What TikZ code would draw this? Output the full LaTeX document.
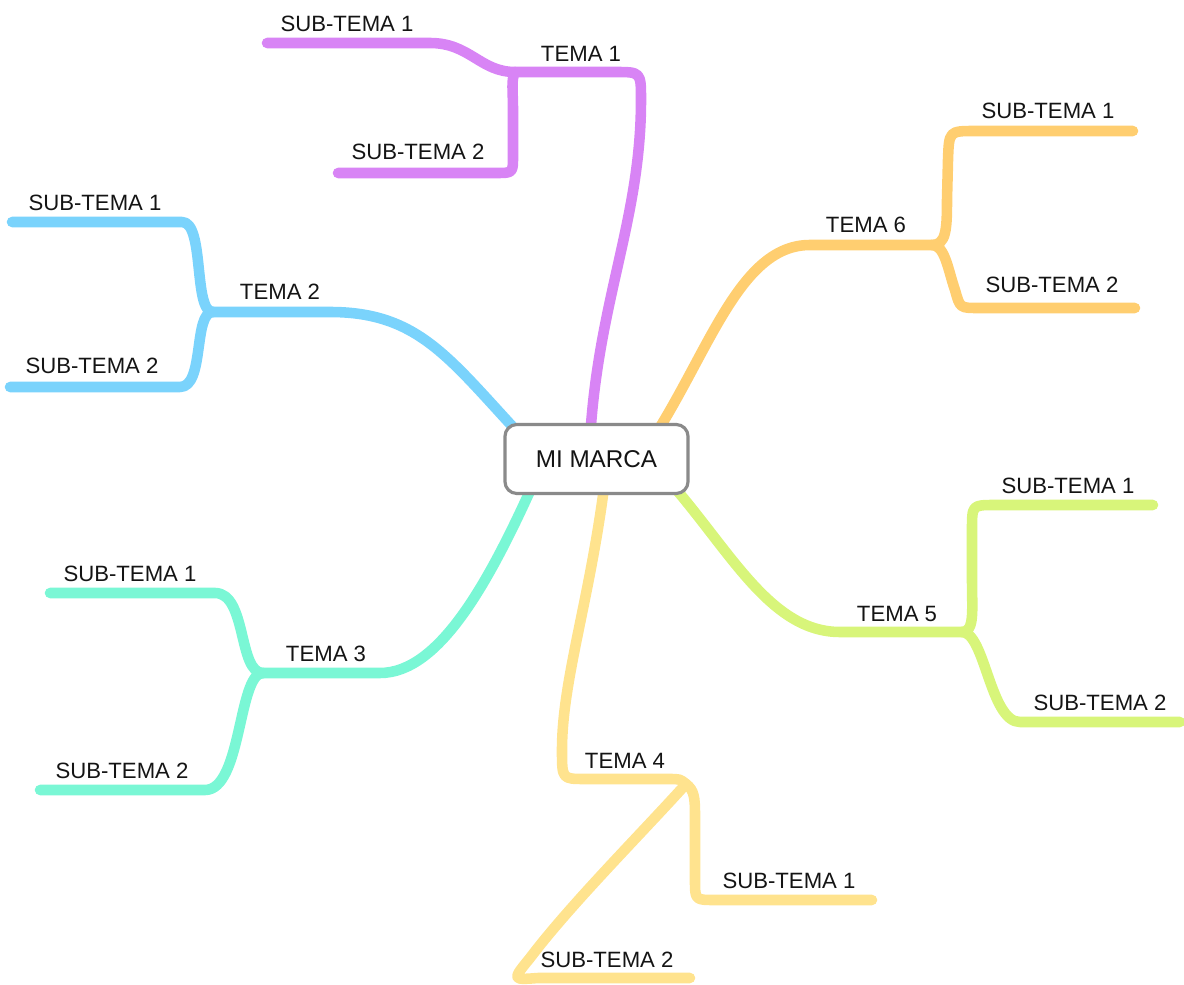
\documentclass[tikz,border=0pt]{standalone}
\usepackage{fontspec}
\setmainfont{Liberation Sans}
\definecolor{cpurple}{HTML}{D884F5}
\definecolor{cblue}{HTML}{7AD3FC}
\definecolor{cteal}{HTML}{7AF7D5}
\definecolor{cyellow}{HTML}{FFE38E}
\definecolor{cgreen}{HTML}{D8F57A}
\definecolor{corange}{HTML}{FFCE70}
\definecolor{boxgray}{HTML}{8A8A8A}
\begin{document}
\begin{tikzpicture}[x=0.01cm,y=-0.01cm,
  br/.style={line width=3pt,line cap=round,line join=round},
  lbl/.style={font=\fontsize{6.3}{7.5}\selectfont,inner sep=0pt,text=black!92},
  centerbox/.style={draw=boxgray,line width=0.9pt,fill=white,rounded corners=3.4pt,
    minimum width=1.83cm,minimum height=0.69cm,inner sep=0pt,
    font=\fontsize{6.9}{8}\selectfont,text=black!92}]
\useasboundingbox (0,0) rectangle (1184,985);

% ---------- coordinates ----------
\coordinate (p0) at (590,440);  \coordinate (p1) at (515,72);
\coordinate (p1a) at (267,43);  \coordinate (p1b) at (338,173);
\coordinate (b0) at (525,440);  \coordinate (b1) at (213,312);
\coordinate (b1a) at (12,222);  \coordinate (b1b) at (10,387);
\coordinate (t0) at (535,480);  \coordinate (t1) at (263,673);
\coordinate (t1a) at (50,593);  \coordinate (t1b) at (40,790);
\coordinate (y0) at (605,480);  \coordinate (y1) at (686,784);
\coordinate (y1a) at (872,900); \coordinate (y1b) at (690,978);
\coordinate (g0) at (668,480);  \coordinate (g1) at (962,632);
\coordinate (g1a) at (1153,505);\coordinate (g1b) at (1180,722);
\coordinate (o0) at (652,440);  \coordinate (o1) at (932,245);
\coordinate (o1a) at (1133,131);\coordinate (o1b) at (1135,308);

% ---------- TEMA 1 (purple) ----------
\draw[br,cpurple] (p0) .. controls (598,300) and (641,220) .. (641,100)
   .. controls (641,72) .. (615,72) -- (p1);
\draw[br,cpurple] (p1) .. controls (480,72) and (470,43) .. (430,43) -- (p1a);
\draw[br,cpurple] (p1) .. controls (511,80) and (513,90) .. (513,110) -- (513,156)
   .. controls (513,173) .. (496,173) -- (p1b);

% ---------- TEMA 2 (blue) ----------
\draw[br,cblue] (b0) .. controls (450,360) and (420,312) .. (330,312) -- (b1);
\draw[br,cblue] (b1) .. controls (193,312) and (205,222) .. (182,222) -- (b1a);
\draw[br,cblue] (b1) .. controls (193,312) and (205,387) .. (180,387) -- (b1b);

% ---------- TEMA 3 (teal) ----------
\draw[br,cteal] (t0) .. controls (490,580) and (440,673) .. (380,673) -- (t1);
\draw[br,cteal] (t1) .. controls (238,673) and (247,593) .. (215,593) -- (t1a);
\draw[br,cteal] (t1) .. controls (238,673) and (242,790) .. (205,790) -- (t1b);

% ---------- TEMA 4 (yellow) ----------
\draw[br,cyellow] (y0) .. controls (590,600) and (562,680) .. (562,750)
   .. controls (562,779) .. (585,779) -- (668,779) .. controls (680,779) .. (y1);
\draw[br,cyellow] (y1) .. controls (694,790) and (695,797) .. (695,815) -- (695,880)
   .. controls (695,900) .. (715,900) -- (y1a);
\draw[br,cyellow] (y1) .. controls (640,835) and (570,905) .. (530,958)
   .. controls (512,980) .. (538,978) -- (y1b);

% ---------- TEMA 5 (green) ----------
\draw[br,cgreen] (g0) .. controls (730,550) and (770,632) .. (840,632) -- (g1);
\draw[br,cgreen] (g1) .. controls (975,632) and (972,610) .. (972,580) -- (972,530)
   .. controls (972,505) .. (995,505) -- (g1a);
\draw[br,cgreen] (g1) .. controls (985,632) and (990,722) .. (1020,722) -- (g1b);

% ---------- TEMA 6 (orange) ----------
\draw[br,corange] (o0) .. controls (710,350) and (740,245) .. (810,245) -- (o1);
\draw[br,corange] (o1) .. controls (946,245) and (947,230) .. (947,200) -- (948,160)
   .. controls (949,131) .. (975,131) -- (o1a);
\draw[br,corange] (o1) .. controls (945,245) and (948,270) .. (955,290)
   .. controls (960,308) .. (978,308) -- (o1b);

% ---------- center ----------
\node[centerbox] (mimarca) at (596.5,459) {MI MARCA};

% ---------- labels ----------
\node[lbl] (l1)  at (581,54)   {TEMA 1};
\node[lbl] (l1a) at (347,24)   {SUB-TEMA 1};
\node[lbl] (l1b) at (418,152)  {SUB-TEMA 2};
\node[lbl] (l2)  at (280,292)  {TEMA 2};
\node[lbl] (l2a) at (95,203)   {SUB-TEMA 1};
\node[lbl] (l2b) at (92,366)   {SUB-TEMA 2};
\node[lbl] (l3)  at (326,654)  {TEMA 3};
\node[lbl] (l3a) at (130,574)  {SUB-TEMA 1};
\node[lbl] (l3b) at (122,771)  {SUB-TEMA 2};
\node[lbl] (l4)  at (625,761)  {TEMA 4};
\node[lbl] (l4a) at (789,881)  {SUB-TEMA 1};
\node[lbl] (l4b) at (607,960)  {SUB-TEMA 2};
\node[lbl] (l5)  at (897,614)  {TEMA 5};
\node[lbl] (l5a) at (1068,486) {SUB-TEMA 1};
\node[lbl] (l5b) at (1100,703) {SUB-TEMA 2};
\node[lbl] (l6)  at (866,225)  {TEMA 6};
\node[lbl] (l6a) at (1048,111) {SUB-TEMA 1};
\node[lbl] (l6b) at (1052,285) {SUB-TEMA 2};
\end{tikzpicture}
\end{document}
